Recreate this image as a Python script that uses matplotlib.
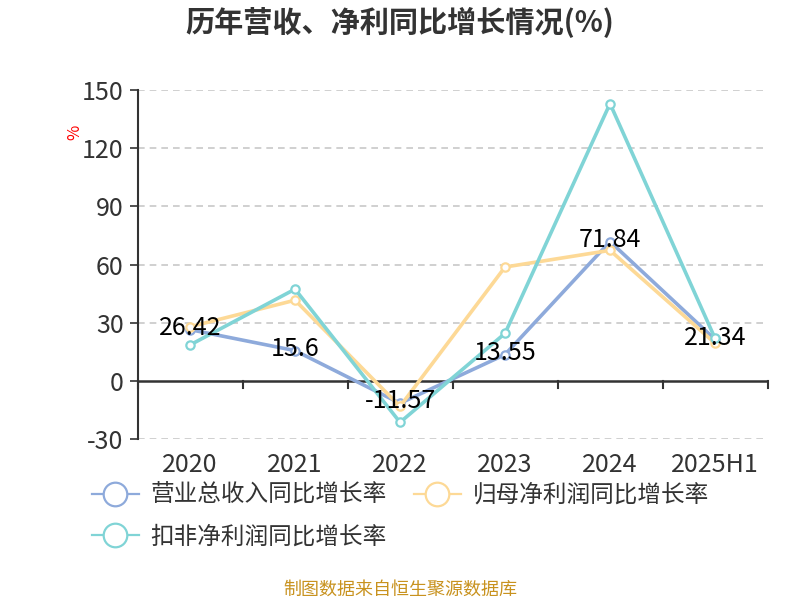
import matplotlib
matplotlib.use('Agg')
import matplotlib.pyplot as plt
import matplotlib.transforms as mtransforms
from matplotlib.lines import Line2D

plt.rcParams['font.family'] = ['Noto Sans CJK SC', 'DejaVu Sans']

# data
years = ['2020', '2021', '2022', '2023', '2024', '2025H1']
revenue = [26.42, 15.6, -11.57, 13.55, 71.84, 21.34]
net_profit = [27.9, 41.6, -13.2, 58.7, 67.3, 19.4]
deducted_profit = [18.5, 47.3, -21.4, 24.5, 143.0, 21.9]
yticks = [-30, 0, 30, 60, 90, 120, 150]
names = ['营业总收入同比增长率', '归母净利润同比增长率', '扣非净利润同比增长率']
colors = ['#8eaadb', '#fdd996', '#80d4d6']

fig = plt.figure(figsize=(8, 6), dpi=100)
ax = fig.add_axes([0.1719, 0.2683, 0.7875, 0.5817])

x = list(range(len(years)))
for vals, c in zip([revenue, net_profit, deducted_profit], colors):
    ax.plot(x, vals, color=c, lw=2.6, marker='o', ms=6, mfc='white',
            mec=c, mew=1.6, zorder=3)

# labels on the revenue series
for i, v in enumerate(revenue):
    lbl = ('%.2f' % v).rstrip('0').rstrip('.')
    ax.text(i, v + 1.0, lbl, ha='center', va='center', fontsize=18,
            color='black', zorder=5)

ax.set_xlim(-0.5, len(years) - 0.5)
ax.set_ylim(-30, 150)
ax.set_yticks(yticks)
ax.set_yticklabels([str(t) for t in yticks], fontsize=18, color='#333333')
ax.tick_params(axis='y', length=6, width=1.2, color='#333333', pad=4)
for t in yticks:
    if t != 0:
        ax.axhline(t, color='#c8c8c8', lw=1.2, ls=(0, (4, 3)), zorder=1)

for s in ['top', 'right', 'bottom']:
    ax.spines[s].set_visible(False)
ax.spines['left'].set_color('#333333')
ax.spines['left'].set_linewidth(1.5)

# x axis line at zero with ticks at band edges
ax.axhline(0, color='#333333', lw=1.8, zorder=2)
ax.set_xticks([])
trans = mtransforms.blended_transform_factory(ax.transData, ax.transAxes)
for k in range(len(years) + 1):
    ax.plot([k - 0.5, k - 0.5], [0, -3.5], color='#333333', lw=1.5,
            clip_on=False, zorder=2)
for i, yr in enumerate(years):
    ax.text(i, -0.075, yr, transform=trans, ha='center', va='center',
            fontsize=18, color='#333333')

fig.text(0.094, 0.78, '%', color='red', fontsize=12, rotation=90,
         ha='center', va='center')

fig.text(0.5, 0.962, '历年营收、净利同比增长情况(%)', ha='center', va='center',
         fontsize=21, fontweight='bold', color='#333333')

# reorder so the legend fills row by row
order = [0, 2, 1]
handles = [Line2D([0], [0], color=colors[i], lw=1.6, marker='o', ms=17,
                  mfc='white', mec=colors[i], mew=1.6) for i in order]
fig.legend(handles, [names[i] for i in order], loc='upper left',
           bbox_to_anchor=(0.088, 0.229), ncol=2, frameon=False, fontsize=17,
           handlelength=2.0, handletextpad=0.5, columnspacing=1.14,
           labelspacing=0.8, labelcolor='#333333')

fig.text(0.5, 0.018, '制图数据来自恒生聚源数据库', ha='center', va='center',
         fontsize=13, color='#c8921e')

fig.savefig('out.png', dpi=100)
